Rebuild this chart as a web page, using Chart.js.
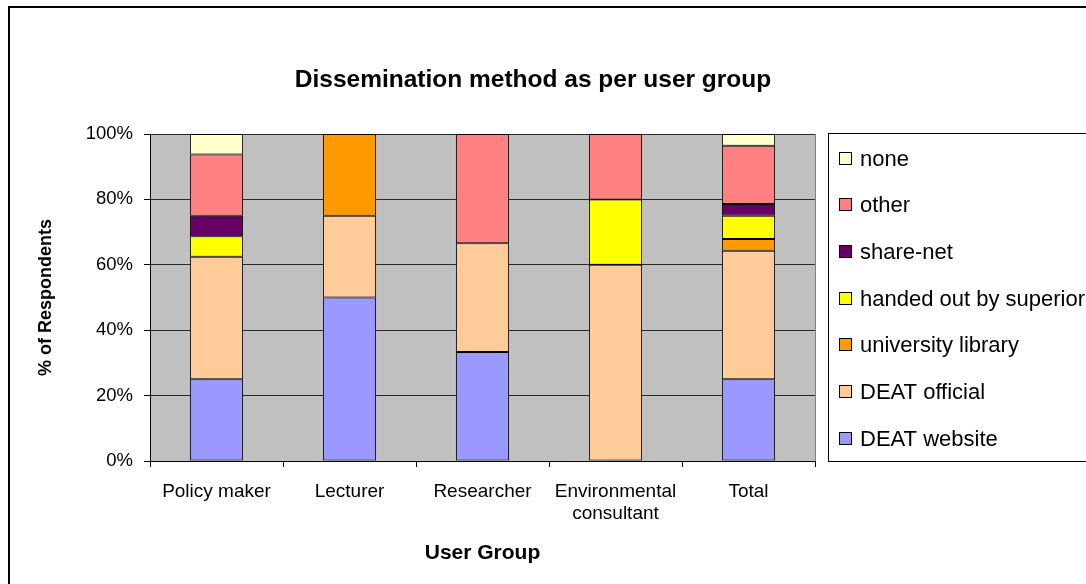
<!DOCTYPE html>
<html>
<head>
<meta charset="utf-8">
<script src="https://cdn.jsdelivr.net/npm/chart.js@4/dist/chart.umd.min.js"></script>
<style>
  html, body { margin: 0; padding: 0; background: #fff; }
  #wrap { width: 1086px; height: 584px; }
</style>
</head>
<body>
<div id="wrap"><canvas id="chart" width="1086" height="584"></canvas></div>
<script>
const groups = ['Policy maker', 'Lecturer', 'Researcher', ['Environmental', 'consultant'], 'Total']
const yTicks = [0, 20, 40, 60, 80, 100]

// % of respondents per user group
const deatWebsite = [25, 50, 33.3, 0, 25]
const deatOfficial = [37.5, 25, 33.3, 60, 39.3]
const universityLibrary = [0, 25, 0, 0, 3.6]
const handedOut = [6.25, 0, 0, 20, 7.1]
const shareNet = [6.25, 0, 0, 0, 3.6]
const other = [18.75, 0, 33.4, 20, 17.8]
const none = [6.25, 0, 0, 0, 3.6]

const FONT = "'Liberation Sans', Arial, sans-serif"

const series = [
  { label: 'DEAT website', data: deatWebsite, color: '#9999FF' },
  { label: 'DEAT official', data: deatOfficial, color: '#FFCC99' },
  { label: 'university library', data: universityLibrary, color: '#FF9900' },
  { label: 'handed out by superior', data: handedOut, color: '#FFFF00' },
  { label: 'share-net', data: shareNet, color: '#660066' },
  { label: 'other', data: other, color: '#FF8080' },
  { label: 'none', data: none, color: '#FFFFCC' },
]

const excelFrame = {
  id: 'excelFrame',
  beforeDraw(chart) {
    const { ctx, chartArea: a } = chart
    ctx.save()
    ctx.fillStyle = '#C0C0C0'
    ctx.fillRect(a.left, a.top, a.right - a.left, a.bottom - a.top)
    ctx.restore()
  },
  beforeDatasetsDraw(chart) {
    const { ctx, chartArea: a } = chart
    ctx.save()
    ctx.strokeStyle = '#808080'
    ctx.lineWidth = 1
    ctx.beginPath()
    ctx.moveTo(a.right + 0.5, a.top)
    ctx.lineTo(a.right + 0.5, a.bottom)
    ctx.stroke()
    ctx.restore()
  },
  afterDraw(chart) {
    const { ctx } = chart
    ctx.save()
    // outer chart border
    ctx.strokeStyle = '#000'
    ctx.lineWidth = 2
    ctx.strokeRect(9, 7, 1200, 700)

    // title
    ctx.fillStyle = '#000'
    ctx.font = 'bold 24.5px ' + FONT
    ctx.textAlign = 'center'
    ctx.textBaseline = 'middle'
    ctx.fillText('Dissemination method as per user group', 533, 80)

    // legend box
    ctx.lineWidth = 1
    ctx.strokeRect(828.5, 133.5, 300, 328)
    ctx.font = '22px ' + FONT
    ctx.textAlign = 'left'
    const items = chart.data.datasets.slice().reverse()
    items.forEach((ds, i) => {
      const y = 158.5 + i * 46.67
      ctx.fillStyle = ds.backgroundColor
      ctx.fillRect(839.5, Math.round(y) - 6.5, 12, 12)
      ctx.strokeStyle = '#000'
      ctx.strokeRect(839.5, Math.round(y) - 6.5, 12, 12)
      ctx.fillStyle = '#000'
      ctx.fillText(ds.label, 860, y + 1)
    })
    ctx.restore()
  },
}

new Chart(document.getElementById('chart'), {
  type: 'bar',
  data: {
    labels: groups,
    datasets: series.map((s) => ({
      label: s.label,
      data: s.data,
      backgroundColor: s.color,
      borderColor: '#000',
      borderWidth: 1,
      borderSkipped: false,
      barPercentage: 0.4,
      categoryPercentage: 1,
    })),
  },
  options: {
    responsive: false,
    animation: false,
    layout: { padding: { left: 35, top: 134, right: 271, bottom: 0 } },
    plugins: {
      legend: { display: false },
      tooltip: { enabled: false },
    },
    scales: {
      x: {
        stacked: true,
        afterFit: (scale) => { scale.height = 123 },
        grid: { drawOnChartArea: false, drawTicks: true, tickLength: 6, tickColor: '#000' },
        border: { color: '#000', width: 1 },
        ticks: { color: '#000', padding: 14, font: { family: FONT, size: 19, lineHeight: 1.16 } },
        title: {
          display: true,
          text: 'User Group',
          color: '#000',
          font: { family: FONT, size: 21, weight: 'bold', lineHeight: 1.2 },
          padding: { top: 0, bottom: 18 },
        },
      },
      y: {
        stacked: true,
        min: 0,
        max: 100,
        afterFit: (scale) => { scale.width = 115 },
        afterBuildTicks: (scale) => { scale.ticks = yTicks.map((v) => ({ value: v })) },
        grid: { color: '#2a2a2a', tickLength: 6, tickColor: '#000' },
        border: { color: '#000', width: 1 },
        ticks: {
          color: '#000',
          padding: 11,
          font: { family: FONT, size: 18.5 },
          callback: (v) => v + '%',
        },
        title: {
          display: true,
          text: '% of Respondents',
          color: '#000',
          font: { family: FONT, size: 18, weight: 'bold', lineHeight: 1.2 },
          padding: 0,
        },
      },
    },
  },
  plugins: [excelFrame],
})
</script>
</body>
</html>
